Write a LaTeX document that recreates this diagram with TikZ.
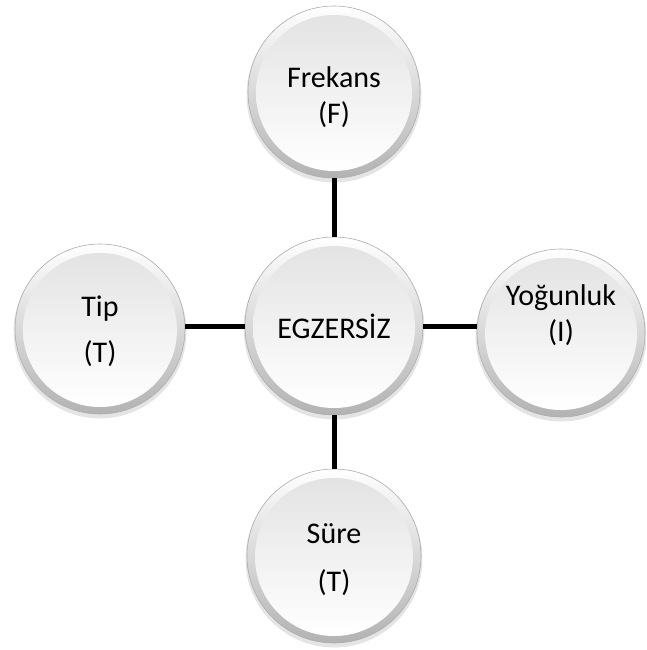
\documentclass[tikz,border=0pt]{standalone}
\usepackage{fontspec}
\setmainfont{Carlito}
\begin{document}
\begin{tikzpicture}[x=1pt,y=1pt,
  bubble/.style={circle, inner sep=0pt, outer sep=0pt},
  label text/.style={align=center, text=black,
    font=\fontsize{30}{36}\selectfont, inner sep=0pt},
  link/.style={line width=5pt, black}]
\useasboundingbox (0,0) rectangle (646,-650);
\clip (0,0) rectangle (646,-650);
% #1 name, #2 x, #3 y, #4 radius, #5 text, #6 vertical text offset
\newcommand\bubbledisk[6]{%
  \fill[gray!60, opacity=0.35] (#2,#3-3) circle[radius={#4pt+1.5pt}];
  \shade[top color=white, bottom color=gray!60, draw=gray!65, line width=0.6pt]
    (#2,#3) circle[radius={#4pt}];
  \shade[top color=gray!22, bottom color=white] (#2,#3-1) circle[radius={#4pt-8pt}];
  \node[bubble, minimum size={2*#4pt}] (#1) at (#2,#3) {};
  \node[label text] (#1-text) at (#2,#3+#6) {#5};
}
\bubbledisk{freq}{334}{-92}{86}{Frekans\\(F)}{-5}
\bubbledisk{core}{334}{-326}{89}{EGZERS\.{I}Z}{0}
\bubbledisk{type}{100}{-329}{85}{Tip\\[10pt](T)}{-2}
\bubbledisk{intensity}{561}{-333}{84}{Yoğunluk\\(I)}{18}
\bubbledisk{time}{334}{-556}{87}{Süre\\[12pt](T)}{-4}
\draw[link] (freq) -- (core);
\draw[link] (core) -- (time);
\draw[link] (core.west) -- (type.east |- core.west);
\draw[link] (core.east) -- (intensity.west |- core.east);
\end{tikzpicture}
\end{document}
